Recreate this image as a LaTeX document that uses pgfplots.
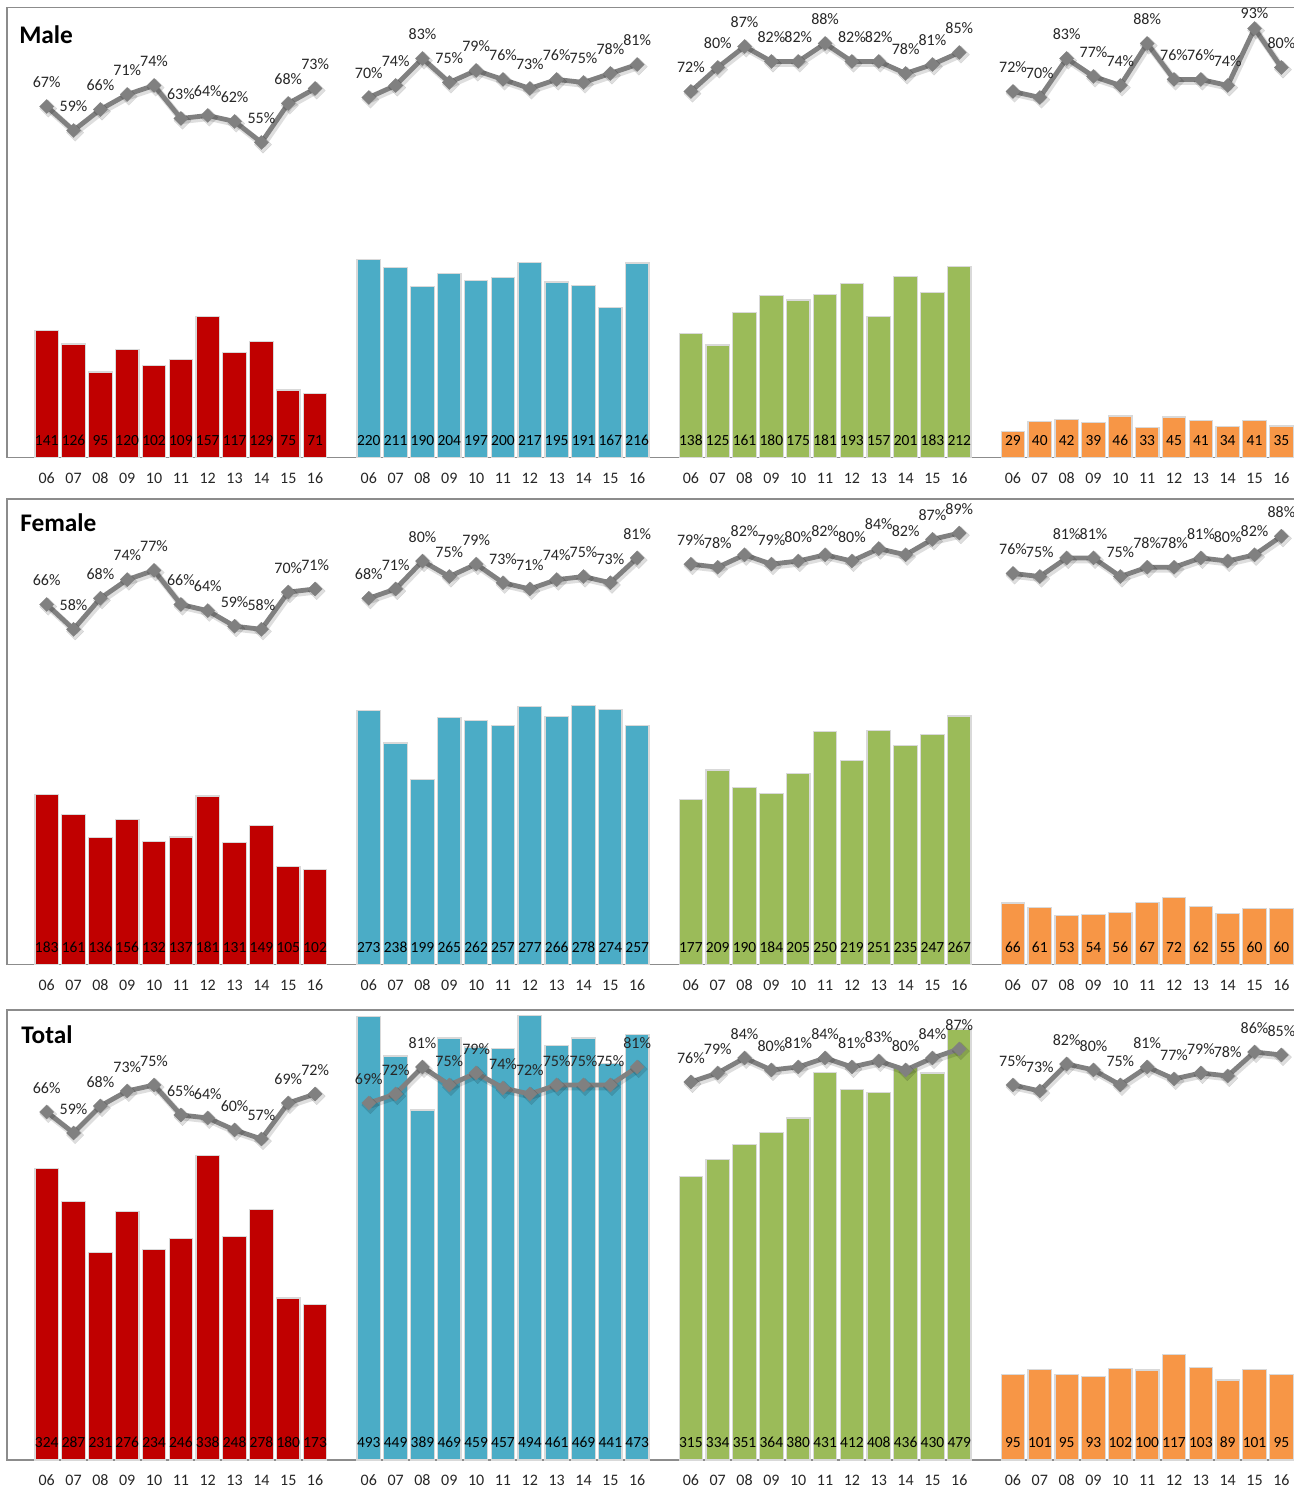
\documentclass[border=0pt]{standalone}
\usepackage{fontspec}
\setmainfont{Carlito}
\usepackage{pgfplots}
\usepackage{pgfplotstable}
\pgfplotsset{compat=1.18}

\definecolor{cRed}{HTML}{C00000}
\definecolor{cBlue}{HTML}{4BACC6}
\definecolor{cGreen}{HTML}{9BBB59}
\definecolor{cOrange}{HTML}{F79646}
\definecolor{cLine}{HTML}{808080}
\definecolor{cFrame}{HTML}{8C8C8C}
\definecolor{cEdge}{HTML}{D9D9D9}

% ---------------- Male ----------------
\pgfplotstableread{
x v p
0 141 67
1 126 59
2 95 66
3 120 71
4 102 74
5 109 63
6 157 64
7 117 62
8 129 55
9 75 68
10 71 73
}\MA
\pgfplotstableread{
x v p
12 220 70
13 211 74
14 190 83
15 204 75
16 197 79
17 200 76
18 217 73
19 195 76
20 191 75
21 167 78
22 216 81
}\MB
\pgfplotstableread{
x v p
24 138 72
25 125 80
26 161 87
27 180 82
28 175 82
29 181 88
30 193 82
31 157 82
32 201 78
33 183 81
34 212 85
}\MC
\pgfplotstableread{
x v p
36 29 72
37 40 70
38 42 83
39 39 77
40 46 74
41 33 88
42 45 76
43 41 76
44 34 74
45 41 93
46 35 80
}\MD
% ---------------- Female ----------------
\pgfplotstableread{
x v p
0 183 66
1 161 58
2 136 68
3 156 74
4 132 77
5 137 66
6 181 64
7 131 59
8 149 58
9 105 70
10 102 71
}\FA
\pgfplotstableread{
x v p
12 273 68
13 238 71
14 199 80
15 265 75
16 262 79
17 257 73
18 277 71
19 266 74
20 278 75
21 274 73
22 257 81
}\FB
\pgfplotstableread{
x v p
24 177 79
25 209 78
26 190 82
27 184 79
28 205 80
29 250 82
30 219 80
31 251 84
32 235 82
33 247 87
34 267 89
}\FC
\pgfplotstableread{
x v p
36 66 76
37 61 75
38 53 81
39 54 81
40 56 75
41 67 78
42 72 78
43 62 81
44 55 80
45 60 82
46 60 88
}\FD
% ---------------- Total ----------------
\pgfplotstableread{
x v p
0 324 66
1 287 59
2 231 68
3 276 73
4 234 75
5 246 65
6 338 64
7 248 60
8 278 57
9 180 69
10 173 72
}\TA
\pgfplotstableread{
x v p
12 493 69
13 449 72
14 389 81
15 469 75
16 459 79
17 457 74
18 494 72
19 461 75
20 469 75
21 441 75
22 473 81
}\TB
\pgfplotstableread{
x v p
24 315 76
25 334 79
26 351 84
27 364 80
28 380 81
29 431 84
30 412 81
31 408 83
32 436 80
33 430 84
34 479 87
}\TC
\pgfplotstableread{
x v p
36 95 75
37 101 73
38 95 82
39 93 80
40 102 75
41 100 81
42 117 77
43 103 79
44 89 78
45 101 86
46 95 85
}\TD

\pgfplotsset{
  panel/.style={
    scale only axis, width=975.9pt,
    xmin=-1.479, xmax=47.0, clip=false,
  },
  barax/.style={panel, ymin=0, ymax=500,
    axis line style={cFrame, line width=1.4pt},
    ytick=\empty,
    xtick={0,...,46},
    xticklabels={06,07,08,09,10,11,12,13,14,15,16,{},06,07,08,09,10,11,12,13,14,15,16,{},06,07,08,09,10,11,12,13,14,15,16,{},06,07,08,09,10,11,12,13,14,15,16},
    major tick length=0pt,
    xticklabel style={font=\fontsize{12}{14}\selectfont, text=black!85, anchor=center, yshift=-15.4pt},
  },
  lineax/.style={panel, ymin=-50, ymax=100, hide axis},
}

\newcommand{\bars}[2]{%
  \addplot[ybar, bar width=17.6pt, bar shift=0pt, fill=#2, draw=cEdge, line width=0.9pt,
    nodes near coords={\pgfplotspointmeta}, point meta=explicit symbolic,
    visualization depends on={y \as \rawy},
    every node near coord/.append style={inner sep=0pt, font=\fontsize{11.6}{13}\selectfont, text=black,
      shift={(axis direction cs:0,-\rawy)}, yshift=8.6pt}]
    table[x=x, y=v, meta=v]{#1};
}
% #2 = pt per percentage unit in this row (keeps labels inside the frame)
\newcommand{\pline}[2]{%
  \addplot[black, opacity=0.13, line width=5pt, line join=round, mark=square*, mark size=4.6pt,
    mark options={rotate=45, fill=black, draw=black, line width=0.1pt, solid},
    xshift=1.2pt, yshift=-1.6pt, forget plot]
    table[x=x, y=p]{#1};
  \addplot[cLine, line width=3.6pt, line join=round, mark=square*, mark size=3.8pt,
    mark options={rotate=45, fill=cLine, draw=cLine, line width=0.1pt, solid},
    nodes near coords={\pgfplotspointmeta\%}, point meta=explicit symbolic,
    visualization depends on={y \as \rawp},
    every node near coord/.append style={inner sep=0pt, font=\fontsize{12}{14}\selectfont, text=black!85,
      yshift={min(13.9,(100-\rawp)*#2-8.4)*1pt}}]
    table[x=x, y=p, meta=p]{#1};
}

\begin{document}
\begin{tikzpicture}
\useasboundingbox (0,0) rectangle (969.75pt,1115.25pt);
% Male
\begin{axis}[barax, at={(5.25pt,772.125pt)}, height=337.5pt]
\bars{\MA}{cRed}\bars{\MB}{cBlue}\bars{\MC}{cGreen}\bars{\MD}{cOrange}
\end{axis}
\begin{axis}[lineax, at={(5.25pt,772.125pt)}, height=337.5pt]
\pline{\MA}{2.25}\pline{\MB}{2.25}\pline{\MC}{2.25}\pline{\MD}{2.25}
\end{axis}
% Female
\begin{axis}[barax, at={(5.25pt,391.875pt)}, height=349.125pt]
\bars{\FA}{cRed}\bars{\FB}{cBlue}\bars{\FC}{cGreen}\bars{\FD}{cOrange}
\end{axis}
\begin{axis}[lineax, at={(5.25pt,391.875pt)}, height=349.125pt]
\pline{\FA}{2.3275}\pline{\FB}{2.3275}\pline{\FC}{2.3275}\pline{\FD}{2.3275}
\end{axis}
% Total
\begin{axis}[barax, at={(5.25pt,20.25pt)}, height=337.5pt]
\bars{\TA}{cRed}\bars{\TB}{cBlue}\bars{\TC}{cGreen}\bars{\TD}{cOrange}
\end{axis}
\begin{axis}[lineax, at={(5.25pt,20.25pt)}, height=337.5pt]
\pline{\TA}{2.25}\pline{\TB}{2.25}\pline{\TC}{2.25}\pline{\TD}{2.25}
\end{axis}
\node[anchor=base west, inner sep=0pt, font=\fontsize{19}{21}\selectfont\bfseries] at (14.25pt,1082.6pt) {Male};
\node[anchor=base west, inner sep=0pt, font=\fontsize{19}{21}\selectfont\bfseries] at (15pt,716.25pt) {Female};
\node[anchor=base west, inner sep=0pt, font=\fontsize{19}{21}\selectfont\bfseries] at (15.75pt,332.8pt) {Total};
\end{tikzpicture}
\end{document}
